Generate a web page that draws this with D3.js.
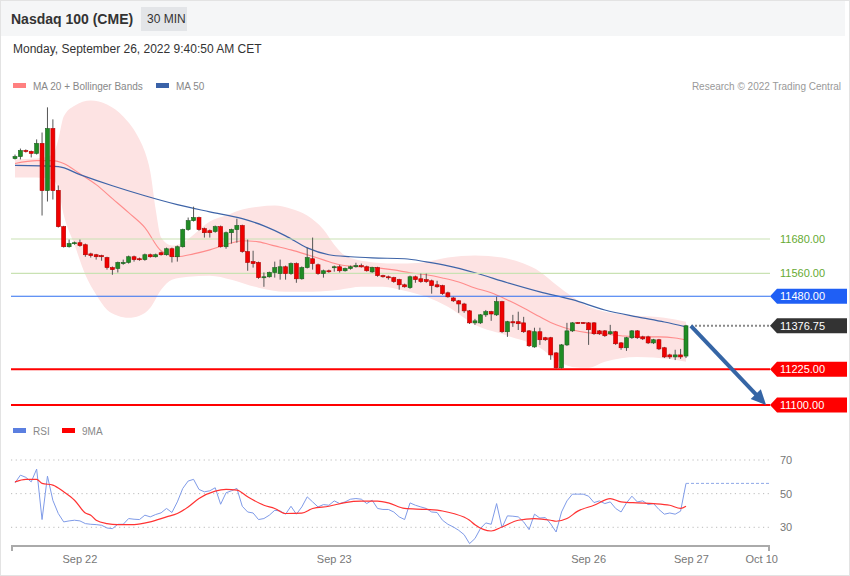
<!DOCTYPE html>
<html><head><meta charset="utf-8">
<script src="https://cdnjs.cloudflare.com/ajax/libs/d3/7.8.5/d3.min.js"></script>
<style>body{margin:0;background:#fff;} svg{display:block;font-family:"Liberation Sans",Arial,sans-serif;}</style>
</head><body><svg id="c" width="850" height="576"></svg>
<script>
// ---------- DATA ----------
const opens  = [11961,11968,11989,11986,11979,12014,11849,12066,11850,11723,11653,11664,11667,11660,11628,11625,11622,11615,11580,11577,11594,11598,11618,11611,11608,11625,11618,11632,11625,11646,11618,11653,11713,11744,11755,11716,11709,11706,11723,11653,11702,11713,11727,11636,11601,11598,11545,11548,11563,11559,11583,11559,11594,11541,11580,11611,11590,11559,11569,11580,11583,11569,11577,11583,11587,11583,11565,11580,11552,11548,11545,11538,11520,11510,11548,11541,11538,11534,11520,11517,11492,11474,11464,11453,11429,11387,11387,11415,11426,11415,11461,11356,11391,11391,11387,11359,11303,11356,11335,11335,11282,11230,11310,11359,11388,11388,11387,11387,11359,11359,11349,11356,11317,11300,11335,11359,11338,11338,11317,11328,11300,11275,11268,11275,11271];
const highs  = [11975,11996,11993,11989,12028,12052,12140,12098,11867,11726,11678,11671,11678,11664,11632,11628,11625,11618,11584,11601,11608,11622,11622,11615,11629,11629,11629,11636,11650,11650,11657,11716,11755,11793,11758,11720,11713,11727,11727,11706,11716,11751,11730,11678,11639,11601,11563,11566,11601,11608,11587,11598,11598,11584,11650,11685,11594,11573,11573,11587,11590,11580,11587,11597,11594,11587,11583,11583,11555,11552,11548,11541,11524,11552,11552,11559,11559,11538,11534,11520,11496,11478,11467,11457,11432,11401,11418,11432,11429,11478,11464,11394,11415,11426,11408,11362,11370,11370,11338,11338,11285,11313,11387,11390,11390,11390,11390,11390,11362,11362,11380,11359,11320,11338,11362,11362,11342,11342,11331,11331,11303,11279,11293,11296,11380];
const lows   = [11958,11958,11982,11965,11975,11762,11811,11818,11720,11650,11650,11660,11653,11618,11615,11608,11604,11573,11555,11563,11590,11594,11601,11604,11604,11615,11615,11622,11622,11598,11601,11650,11709,11741,11709,11685,11685,11702,11650,11646,11664,11667,11632,11569,11580,11541,11513,11545,11545,11538,11538,11555,11527,11538,11577,11573,11555,11545,11562,11566,11563,11566,11573,11580,11580,11566,11562,11548,11545,11538,11527,11503,11510,11506,11527,11527,11527,11489,11510,11485,11475,11460,11422,11422,11383,11380,11383,11408,11394,11411,11352,11338,11373,11362,11352,11303,11300,11310,11324,11258,11227,11227,11306,11355,11384,11384,11310,11345,11345,11338,11345,11310,11293,11289,11331,11331,11327,11313,11313,11292,11264,11261,11257,11261,11264];
const closes = [11968,11989,11986,11979,12014,11849,12066,11849,11723,11653,11664,11667,11657,11625,11622,11618,11618,11580,11573,11598,11598,11618,11608,11608,11625,11618,11625,11625,11646,11618,11653,11713,11744,11755,11713,11702,11702,11723,11653,11702,11713,11727,11636,11598,11594,11545,11548,11563,11580,11583,11559,11594,11541,11580,11615,11594,11559,11569,11566,11583,11569,11577,11583,11587,11583,11569,11580,11552,11548,11545,11531,11520,11513,11548,11538,11531,11531,11517,11513,11489,11478,11464,11453,11429,11387,11394,11415,11426,11418,11461,11356,11391,11387,11384,11356,11307,11356,11328,11328,11275,11230,11310,11359,11387,11386,11386,11363,11349,11349,11342,11356,11314,11300,11335,11359,11335,11331,11317,11328,11296,11268,11268,11275,11268,11376.75];

const ma20Idx = [0,4,7,9,12,15,18,21,24,27,30,33,36,39,42,45,48,51,54,57,60,64,67,70,73,76,79,82,85,88,91,94,97,100,103,106,109,112,115,119,122,124];
const ma20Val = [11944,11954,11954,11944,11908,11870,11821,11772,11720,11639,11618,11628,11642,11660,11674,11670,11656,11642,11625,11607,11590,11583,11579,11572,11562,11555,11544,11530,11509,11492,11467,11439,11408,11380,11362,11352,11348,11342,11338,11338,11334,11327];

const ma50Idx = [0,8,12,18,24,30,36,42,46,50,54,58,62,66,72,76,80,85,91,97,103,109,115,120,124];
const ma50Val = [11937,11933,11905,11866,11831,11800,11775,11751,11726,11691,11649,11625,11618,11614,11611,11600,11586,11562,11527,11495,11468,11432,11408,11390,11373];

const bbUpIdx = [0,4,7,8,9,11,14,17,20,23,24,25,26,27,29,31,33,36,39,42,45,48,51,54,57,59,61,65,70,75,80,85,90,94,97,100,103,106,109,115,120,124];
const bbUpVal = [11958,11961,11975,12028,12108,12146,12164,12150,12108,12028,11985,11915,11783,11685,11657,11667,11695,11741,11762,11783,11793,11797,11786,11762,11713,11660,11622,11601,11594,11597,11615,11622,11615,11594,11566,11520,11478,11443,11426,11412,11405,11391];
const bbLoIdx = [0,4,7,8,9,11,13,15,17,19,21,23,25,27,29,32,36,40,45,50,55,60,64,68,72,76,80,85,91,97,100,103,106,109,115,121,124];
const bbLoVal = [11895,11895,11888,11853,11765,11660,11555,11485,11433,11412,11405,11412,11440,11503,11538,11548,11552,11538,11510,11496,11496,11503,11513,11513,11499,11478,11443,11380,11342,11300,11258,11233,11230,11251,11268,11261,11251];

const rsiVal = [56.4,61,59.7,57,64.6,34.6,60.4,46,38.2,33.2,33.8,34.2,33.8,32.2,31.8,31.6,31.2,29.6,29.2,31.8,31.8,35.2,34.8,34.6,37.2,36.2,37.6,38.6,41.2,38.8,45.1,53.1,57.5,58.5,52.5,51.1,51.7,53.5,43.7,50.5,51.7,53.1,42.5,39.1,38.5,34.6,35.2,37.2,40.1,39.7,37.8,42.5,37.8,42.1,48.1,45.1,42.1,43.5,43.1,45.7,44.1,45.1,46.7,47.1,46.7,44.1,46.1,41.2,40.6,40.6,39.1,36.2,34.6,44.5,43.1,42.1,41.2,39.1,38.8,34.2,31.8,30.2,28.2,25.6,20.3,23.3,29.2,32.6,31.8,44.1,29.8,36.8,36.6,36.2,33.2,28.6,37.8,35.5,35.8,32,27.2,39.1,45.7,49.7,49.7,49.7,48.5,44.7,45.7,44.1,45.1,41.2,39.1,44.5,48.5,45.1,45.7,43.5,44.1,40.6,37.8,38.5,37.8,39.6,56.1];
const ma9Idx = [0,2,4,5,7,9,11,13,14,15,17,19,22,25,28,30,32,34,37,39,41,43,46,48,50,53,55,58,61,64,67,69,72,76,79,81,84,85,88,90,93,96,99,100,102,104,107,110,112,115,118,121,123,124];
const ma9Val = [57,58.5,58.5,56.1,55.1,51.1,46.1,38.5,37.2,34.2,32.2,31.6,31.6,33.2,36.2,38.2,42.1,47.1,51.5,52.5,52.1,48.1,43.1,41.2,38.2,38.4,41.2,42.5,44.7,45.5,45.5,44.5,41.2,40.6,39.7,38.2,34.2,31.5,27.8,30.2,34.2,35.2,34.2,33.6,35.2,39.6,43.1,47.1,45.1,44.5,44.1,43.1,41.2,42.5];

const priceLevels = [11680, 11560, 11480, 11376.75, 11225, 11100];
const levelLabels = ["11680.00","11560.00","11480.00","11376.75","11225.00","11100.00"];
const rsiTicks = [70, 50, 30];
const dateTickIdx = [12, 59, 106, 125, 138];
const dateTickLabels = ["Sep 22","Sep 23","Sep 26","Sep 27","Oct 10"];
const targetIdx = [124.9, 138.8];
const targetVal = [11376.75, 11100];

// ---------- STYLE ----------
const levelStyle = [
  {kind:"text", line:"#c9e2b3", text:"#66aa33", w:1.2},
  {kind:"text", line:"#c9e2b3", text:"#66aa33", w:1.2},
  {kind:"box",  line:"#2f6ff0", box:"#1f5ff5", w:1.2},
  {kind:"box",  line:"#888",    box:"#333333", w:2, dotted:true},
  {kind:"box",  line:"#ff0000", box:"#ff0000", w:2},
  {kind:"box",  line:"#ff0000", box:"#ff0000", w:2}
];

const svg = d3.select("#c");
const W = 850, H = 576;

// frame & header
svg.append("rect").attr("x",0.5).attr("y",0.5).attr("width",W-1).attr("height",H-1).attr("fill","#fff").attr("stroke","#e3e3e3");
svg.append("rect").attr("x",1).attr("y",1).attr("width",844).attr("height",35).attr("fill","#f5f6f7");
svg.append("rect").attr("x",141).attr("y",7).attr("width",46).attr("height",24).attr("fill","#e3e5e8");
svg.append("text").attr("x",11).attr("y",24).attr("font-size",14).attr("font-weight","bold").attr("fill","#333").text("Nasdaq 100 (CME)");
svg.append("text").attr("x",147).attr("y",23).attr("font-size",12).attr("fill","#333").text("30 MIN");
svg.append("text").attr("x",13).attr("y",53).attr("font-size",12).attr("fill","#333").text("Monday, September 26, 2022 9:40:50 AM CET");

// legends
function legend(x, y, color, label){
  svg.append("rect").attr("x",x).attr("y",y-3).attr("width",13).attr("height",5).attr("fill",color);
  svg.append("text").attr("x",x+20).attr("y",y+3.5).attr("font-size",10).attr("fill","#888").text(label);
}
legend(13, 86, "#ff8080", "MA 20 + Bollinger Bands");
legend(156, 86, "#3a62a8", "MA 50");
svg.append("text").attr("x",841).attr("y",89.5).attr("text-anchor","end").attr("font-size",10).attr("fill","#999").text("Research © 2022 Trading Central");
legend(13, 431, "#5b7fe0", "RSI");
legend(62, 431, "#ff0000", "9MA");

// scales
const x = d3.scaleLinear().domain([0,124]).range([15,686]);
const y = d3.scaleLinear().domain([11100,11680]).range([405,239]);
const yr = d3.scaleLinear().domain([30,70]).range([527.3,460]);
const X0 = 11, X1 = 770;

// bollinger band
const bandPts = bbUpIdx.map((d,i)=>({i:d,v:bbUpVal[i]}));
const lowPts = bbLoIdx.map((d,i)=>({i:d,v:bbLoVal[i]}));
const lineGen = d3.line().x(d=>x(d.i)).y(d=>y(d.v)).curve(d3.curveMonotoneX);
const upPath = lineGen(bandPts);
const loRev = lineGen(lowPts.slice().reverse());
svg.append("path").attr("d", upPath + "L" + loRev.slice(1) + "Z").attr("fill","#fde3e3").attr("stroke","none");

// MA lines
svg.append("path").attr("d", lineGen(ma20Idx.map((d,i)=>({i:d,v:ma20Val[i]})))).attr("fill","none").attr("stroke","#ff8c8c").attr("stroke-width",1.1);
svg.append("path").attr("d", lineGen(ma50Idx.map((d,i)=>({i:d,v:ma50Val[i]})))).attr("fill","none").attr("stroke","#3e64a8").attr("stroke-width",1.2);

// price levels
priceLevels.forEach((lv,k)=>{
  const st = levelStyle[k];
  const yy = y(lv);
  if (st.dotted) {
    svg.append("line").attr("x1",x(124)+5).attr("x2",X1).attr("y1",yy).attr("y2",yy)
      .attr("stroke",st.line).attr("stroke-width",st.w).attr("stroke-dasharray","2,2");
  } else {
    svg.append("line").attr("x1",X0).attr("x2",X1).attr("y1",yy).attr("y2",yy)
      .attr("stroke",st.line).attr("stroke-width",st.w);
  }
  if (st.kind==="box") {
    const pts = [[X1,yy],[X1+7,yy-7.5],[847,yy-7.5],[847,yy+7.5],[X1+7,yy+7.5]];
    svg.append("polygon").attr("points",pts.map(p=>p.join(",")).join(" ")).attr("fill",st.box);
    svg.append("text").attr("x",780).attr("y",yy+4).attr("font-size",11).attr("fill","#fff").text(levelLabels[k]);
  } else {
    svg.append("text").attr("x",780).attr("y",yy+4).attr("font-size",11).attr("fill",st.text).text(levelLabels[k]);
  }
});

// candles
const g = svg.append("g");
opens.forEach((o,i)=>{
  const c = closes[i], hi = highs[i], lo = lows[i];
  const up = c >= o;
  const cx = x(i);
  g.append("line").attr("x1",cx).attr("x2",cx).attr("y1",y(hi)).attr("y2",y(lo)).attr("stroke","#555").attr("stroke-width",1);
  const top = y(Math.max(o,c)), bot = y(Math.min(o,c));
  g.append("rect").attr("x",cx-2).attr("y",top).attr("width",4).attr("height",Math.max(1,bot-top))
    .attr("fill", up ? "#1f8c24" : "#f00000").attr("stroke", up ? "#1b5e1e" : "#b00000").attr("stroke-width",0.6);
});

// target arrow
const ax1 = x(targetIdx[0]), ay1 = y(targetVal[0]), ax2 = x(targetIdx[1]), ay2 = y(targetVal[1]);
const ang = Math.atan2(ay2-ay1, ax2-ax1);
const hl = 15, hw = 7;
const bx = ax2 - hl*Math.cos(ang), by = ay2 - hl*Math.sin(ang);
svg.append("line").attr("x1",ax1).attr("y1",ay1).attr("x2",bx+2*Math.cos(ang)).attr("y2",by+2*Math.sin(ang))
  .attr("stroke","#3565a5").attr("stroke-width",4);
svg.append("polygon").attr("points",[
  [ax2,ay2],
  [bx + hw*Math.sin(ang), by - hw*Math.cos(ang)],
  [bx - hw*Math.sin(ang), by + hw*Math.cos(ang)]
].map(p=>p.join(",")).join(" ")).attr("fill","#3565a5");

// RSI panel
rsiTicks.forEach(t=>{
  svg.append("line").attr("x1",X0).attr("x2",X1).attr("y1",yr(t)).attr("y2",yr(t))
    .attr("stroke","#bbb").attr("stroke-dasharray","1.2,3.5");
  svg.append("text").attr("x",780).attr("y",yr(t)+4).attr("font-size",11).attr("fill","#777").text(t);
});
const rsiLine = d3.line().x((d,i)=>x(i)).y(d=>yr(d));
svg.append("path").attr("d",rsiLine(rsiVal)).attr("fill","none").attr("stroke","#7f9be8").attr("stroke-width",1);
const ma9Line = d3.line().x(d=>x(d.i)).y(d=>yr(d.v)).curve(d3.curveMonotoneX);
svg.append("path").attr("d",ma9Line(ma9Idx.map((d,i)=>({i:d,v:ma9Val[i]})))).attr("fill","none").attr("stroke","#ff3333").attr("stroke-width",1.2);
const lastR = rsiVal[rsiVal.length-1];
svg.append("line").attr("x1",x(124)).attr("x2",X1+1).attr("y1",yr(lastR)).attr("y2",yr(lastR))
  .attr("stroke","#8fa8e8").attr("stroke-dasharray","3,2");

// x axis
svg.append("line").attr("x1",X0).attr("x2",X1).attr("y1",546).attr("y2",546).attr("stroke","#aaa").attr("stroke-width",2);
svg.append("line").attr("x1",X0+1).attr("x2",X0+1).attr("y1",546).attr("y2",551).attr("stroke","#aaa").attr("stroke-width",2);
svg.append("line").attr("x1",X1-1).attr("x2",X1-1).attr("y1",546).attr("y2",551).attr("stroke","#aaa").attr("stroke-width",2);
dateTickIdx.forEach((d,k)=>{
  svg.append("text").attr("x",x(d)).attr("y",563).attr("text-anchor","middle").attr("font-size",11).attr("fill","#777").text(dateTickLabels[k]);
});
</script></body></html>
